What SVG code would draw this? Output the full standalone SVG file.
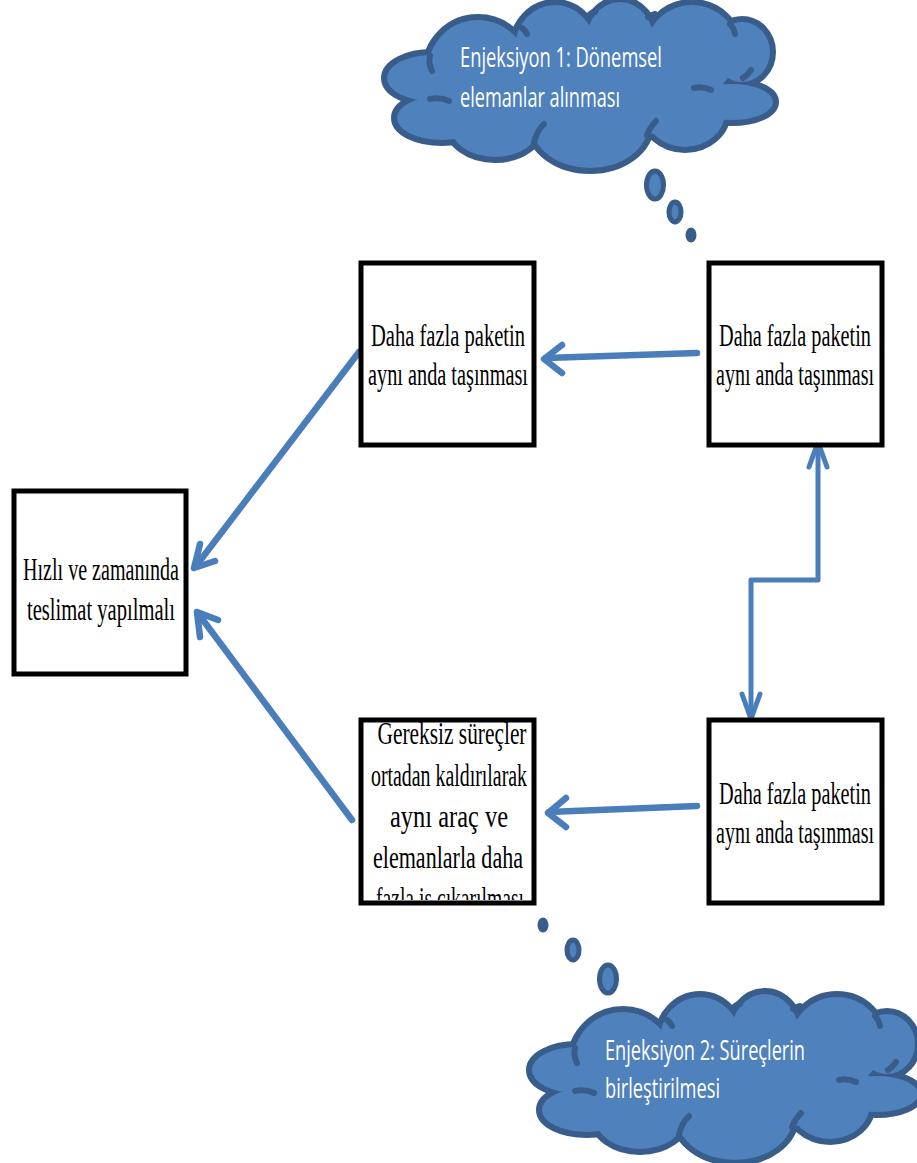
<svg xmlns="http://www.w3.org/2000/svg" xmlns:xlink="http://www.w3.org/1999/xlink" width="917" height="1163" viewBox="0 0 917 1163">
  <style>
    .box { fill: #ffffff; stroke: #000000; stroke-width: 5; }
    .boxText { font-family: "Liberation Serif", "Times New Roman", serif; font-size: 31px; fill: #000000; text-anchor: middle; }
    .cloudText { font-family: "Open Sans", "Liberation Sans", sans-serif; font-size: 28px; fill: #ffffff; }
    .cloudEdge { fill: #385D8A; stroke: #385D8A; stroke-width: 12; }
    .cloudBody { fill: #4F81BD; stroke: none; }
    .cloudArc { fill: none; stroke: #385D8A; stroke-width: 6; stroke-linecap: round; }
    .bubble { fill: #4F81BD; stroke: #385D8A; stroke-width: 5; }
    .dot { fill: #385D8A; }
    .conn { fill: none; stroke: #4A7EBB; stroke-width: 6.5; stroke-linecap: round; stroke-linejoin: round; }
    .elbow { fill: none; stroke: #4A7EBB; stroke-width: 5; stroke-linecap: round; stroke-linejoin: round; }
  </style>
  <defs>
    <!-- overlapping lobes that make up the cloud outline -->
    <g id="cloudLobes">
      <ellipse cx="478" cy="70" rx="50" ry="50"/>
      <ellipse cx="555" cy="48" rx="40" ry="43"/>
      <ellipse cx="620" cy="42" rx="34" ry="40"/>
      <ellipse cx="692" cy="50" rx="46" ry="45"/>
      <ellipse cx="742" cy="52" rx="28" ry="30"/>
      <ellipse cx="732" cy="102" rx="41" ry="18"/>
      <ellipse cx="432" cy="78" rx="45" ry="23"/>
      <ellipse cx="442" cy="118" rx="45" ry="22"/>
      <ellipse cx="495" cy="125" rx="45" ry="32"/>
      <ellipse cx="590" cy="125" rx="58" ry="43"/>
      <ellipse cx="685" cy="112" rx="40" ry="35"/>
      <ellipse cx="585" cy="90" rx="140" ry="50"/>
    </g>
    <g id="cloud">
      <use xlink:href="#cloudLobes" class="cloudEdge"/>
      <use xlink:href="#cloudLobes" class="cloudBody"/>
      <path class="cloudArc" d="M430,56 Q428,63 432,71"/>
      <path class="cloudArc" d="M430,99 Q440,97 449,101"/>
      <path class="cloudArc" d="M534,143 Q536,132 544,124"/>
      <path class="cloudArc" d="M647,135 Q650,127 656,121"/>
      <path class="cloudArc" d="M694,88 Q702,86 711,90"/>
      <path class="cloudArc" d="M751,70 Q748,75 743,78"/>
      <path class="cloudArc" d="M730,24 Q734,28 735,34"/>
      <path class="cloudArc" d="M648,17 Q651,15 655,14"/>
      <path class="cloudArc" d="M590,14 Q592,12 595,12"/>
      <path class="cloudArc" d="M522,28 Q525,30 527,34"/>
    </g>
    <clipPath id="clipC">
      <rect x="363" y="722" width="169" height="178"/>
    </clipPath>
  </defs>

  <!-- thought cloud: first injection -->
  <g id="cloud1">
    <use xlink:href="#cloud"/>
    <text class="cloudText" x="460" y="67" textLength="202" lengthAdjust="spacingAndGlyphs">Enjeksiyon 1: Dönemsel</text>
    <text class="cloudText" x="460" y="107" textLength="160" lengthAdjust="spacingAndGlyphs">elemanlar alınması</text>
    <ellipse class="bubble" cx="655" cy="185" rx="8.5" ry="14"/>
    <ellipse class="bubble" cx="675" cy="212" rx="6" ry="10"/>
    <ellipse class="dot" cx="691" cy="235" rx="5.5" ry="7.5"/>
  </g>

  <!-- thought cloud: second injection -->
  <g id="cloud2">
    <use xlink:href="#cloud" transform="translate(145,992)"/>
    <text class="cloudText" x="605" y="1060" textLength="200" lengthAdjust="spacingAndGlyphs">Enjeksiyon 2: Süreçlerin</text>
    <text class="cloudText" x="605" y="1098" textLength="115" lengthAdjust="spacingAndGlyphs">birleştirilmesi</text>
    <ellipse class="dot" cx="543" cy="925" rx="5.5" ry="7.5"/>
    <ellipse class="bubble" cx="573" cy="950" rx="6" ry="10"/>
    <ellipse class="bubble" cx="608" cy="979" rx="8.5" ry="14"/>
  </g>

  <!-- connectors -->
  <g id="connectors">
    <path class="conn" d="M697,353 L546,358"/>
    <path class="conn" d="M562,345 L544,359 L562,373"/>
    <path class="conn" d="M359,352 L196,566"/>
    <path class="conn" d="M200,544 L194,568 L215,561"/>
    <path class="conn" d="M352,820 L200,616"/>
    <path class="conn" d="M200,637 L197,612 L218,620"/>
    <path class="conn" d="M697,806 L549,812"/>
    <path class="conn" d="M566,798 L548,813 L566,827"/>
    <path class="elbow" d="M751,718 L751,580 L818,580 L818,444"/>
    <path class="elbow" d="M809,467 L818,442 L827,467"/>
    <path class="elbow" d="M742,694 L751,719 L760,694"/>
  </g>

  <g id="nodeA">
    <rect class="box" x="361" y="263" width="173" height="182"/>
    <text class="boxText" x="448" y="346" textLength="154" lengthAdjust="spacingAndGlyphs">Daha fazla paketin</text>
    <text class="boxText" x="448" y="385" textLength="160" lengthAdjust="spacingAndGlyphs">aynı anda taşınması</text>
  </g>

  <g id="nodeB">
    <rect class="box" x="709" y="263" width="173" height="182"/>
    <text class="boxText" x="795" y="346" textLength="152" lengthAdjust="spacingAndGlyphs">Daha fazla paketin</text>
    <text class="boxText" x="795" y="385" textLength="158" lengthAdjust="spacingAndGlyphs">aynı anda taşınması</text>
  </g>

  <g id="nodeGoal">
    <rect class="box" x="14" y="491" width="172" height="183"/>
    <text class="boxText" x="101" y="580" textLength="156" lengthAdjust="spacingAndGlyphs">Hızlı ve zamanında</text>
    <text class="boxText" x="101" y="620" textLength="148" lengthAdjust="spacingAndGlyphs">teslimat yapılmalı</text>
  </g>

  <g id="nodeC">
    <rect class="box" x="361" y="720" width="173" height="183"/>
    <g clip-path="url(#clipC)">
      <text class="boxText" x="452" y="744" textLength="149" lengthAdjust="spacingAndGlyphs">Gereksiz süreçler</text>
      <text class="boxText" x="449" y="786" textLength="156" lengthAdjust="spacingAndGlyphs">ortadan kaldırılarak</text>
      <text class="boxText" x="449" y="827" textLength="118" lengthAdjust="spacingAndGlyphs">aynı araç ve</text>
      <text class="boxText" x="448" y="868" textLength="150" lengthAdjust="spacingAndGlyphs">elemanlarla daha</text>
      <text class="boxText" x="450" y="909" textLength="148" lengthAdjust="spacingAndGlyphs">fazla iş çıkarılması</text>
    </g>
  </g>

  <g id="nodeD">
    <rect class="box" x="709" y="720" width="173" height="183"/>
    <text class="boxText" x="795" y="804" textLength="152" lengthAdjust="spacingAndGlyphs">Daha fazla paketin</text>
    <text class="boxText" x="795" y="843" textLength="158" lengthAdjust="spacingAndGlyphs">aynı anda taşınması</text>
  </g>
</svg>
